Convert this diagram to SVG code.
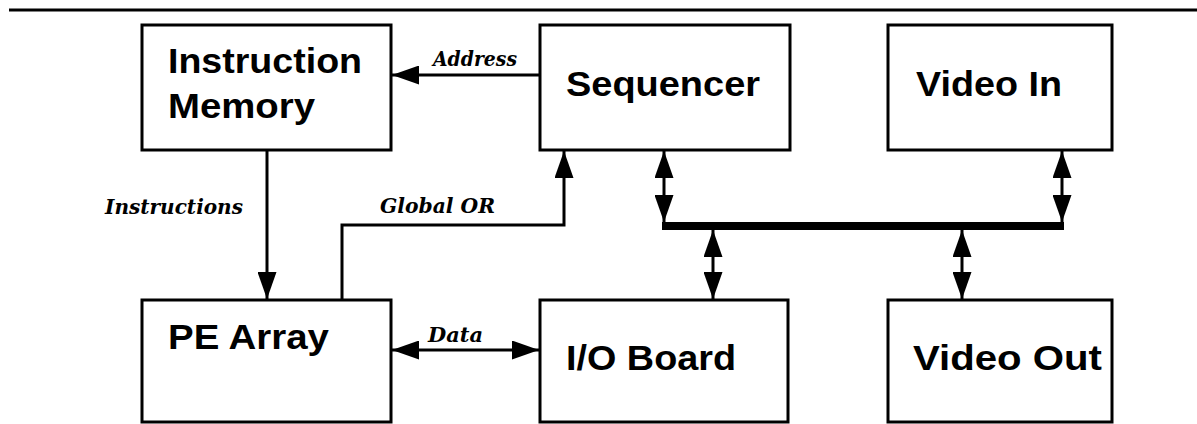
<svg xmlns="http://www.w3.org/2000/svg" width="1197" height="424" viewBox="0 0 1197 424">
<style>
.box{fill:#fff;stroke:#000;stroke-width:3}
.lbl{font-family:"Liberation Sans",Arial,sans-serif;font-weight:bold;font-size:35px;fill:#000}
.edge{font-family:"DejaVu Serif","Liberation Serif",serif;font-weight:bold;font-style:italic;font-size:20px;fill:#000}
.c{fill:none;stroke:#000;stroke-width:3}
.bus{fill:none;stroke:#000;stroke-width:8}
</style>
<defs>
<marker id="ah" markerUnits="userSpaceOnUse" markerWidth="27" markerHeight="19" refX="27" refY="9.5" orient="auto-start-reverse" viewBox="0 0 27 19">
<path d="M0,0 L27,9.5 L0,19 z" fill="#000"/>
</marker>
</defs>
<line x1="9" y1="10" x2="1197" y2="10" stroke="#000" stroke-width="3"/>
<g id="instruction-memory">
<rect class="box" x="142" y="25" width="249" height="125"/>
<text class="lbl" x="168" y="73" textLength="194" lengthAdjust="spacingAndGlyphs">Instruction</text>
<text class="lbl" x="168" y="118" textLength="147" lengthAdjust="spacingAndGlyphs">Memory</text>
</g>
<g id="sequencer">
<rect class="box" x="540" y="25" width="250" height="125"/>
<text class="lbl" x="566" y="96" textLength="194" lengthAdjust="spacingAndGlyphs">Sequencer</text>
</g>
<g id="video-in">
<rect class="box" x="888" y="25" width="224" height="125"/>
<text class="lbl" x="916" y="96" textLength="146" lengthAdjust="spacingAndGlyphs">Video In</text>
</g>
<g id="pe-array">
<rect class="box" x="142" y="300" width="249" height="122"/>
<text class="lbl" x="168" y="349" textLength="161" lengthAdjust="spacingAndGlyphs">PE Array</text>
</g>
<g id="io-board">
<rect class="box" x="540" y="300" width="248" height="122"/>
<text class="lbl" x="566" y="370" textLength="170" lengthAdjust="spacingAndGlyphs">I/O Board</text>
</g>
<g id="video-out">
<rect class="box" x="888" y="300" width="224" height="122"/>
<text class="lbl" x="913" y="370" textLength="189" lengthAdjust="spacingAndGlyphs">Video Out</text>
</g>
<g id="connectors">
<line class="c" x1="539" y1="75" x2="392" y2="75" marker-end="url(#ah)"/>
<text class="edge" x="433" y="66" textLength="84" lengthAdjust="spacingAndGlyphs">Address</text>
<line class="c" x1="267" y1="150" x2="267" y2="299" marker-end="url(#ah)"/>
<text class="edge" x="105" y="214" textLength="138" lengthAdjust="spacingAndGlyphs">Instructions</text>
<polyline class="c" points="342,300 342,225 564,225 564,151" marker-end="url(#ah)"/>
<text class="edge" x="380" y="213" textLength="115" lengthAdjust="spacingAndGlyphs">Global OR</text>
<line class="c" x1="392" y1="350" x2="539" y2="350" marker-start="url(#ah)" marker-end="url(#ah)"/>
<text class="edge" x="428" y="342" textLength="55" lengthAdjust="spacingAndGlyphs">Data</text>
<line class="bus" x1="662" y1="226" x2="1064" y2="226"/>
<line class="c" x1="664" y1="151" x2="664" y2="222" marker-start="url(#ah)" marker-end="url(#ah)"/>
<line class="c" x1="1062" y1="151" x2="1062" y2="222" marker-start="url(#ah)" marker-end="url(#ah)"/>
<line class="c" x1="713" y1="230" x2="713" y2="299" marker-start="url(#ah)" marker-end="url(#ah)"/>
<line class="c" x1="962" y1="230" x2="962" y2="299" marker-start="url(#ah)" marker-end="url(#ah)"/>
</g>
</svg>
